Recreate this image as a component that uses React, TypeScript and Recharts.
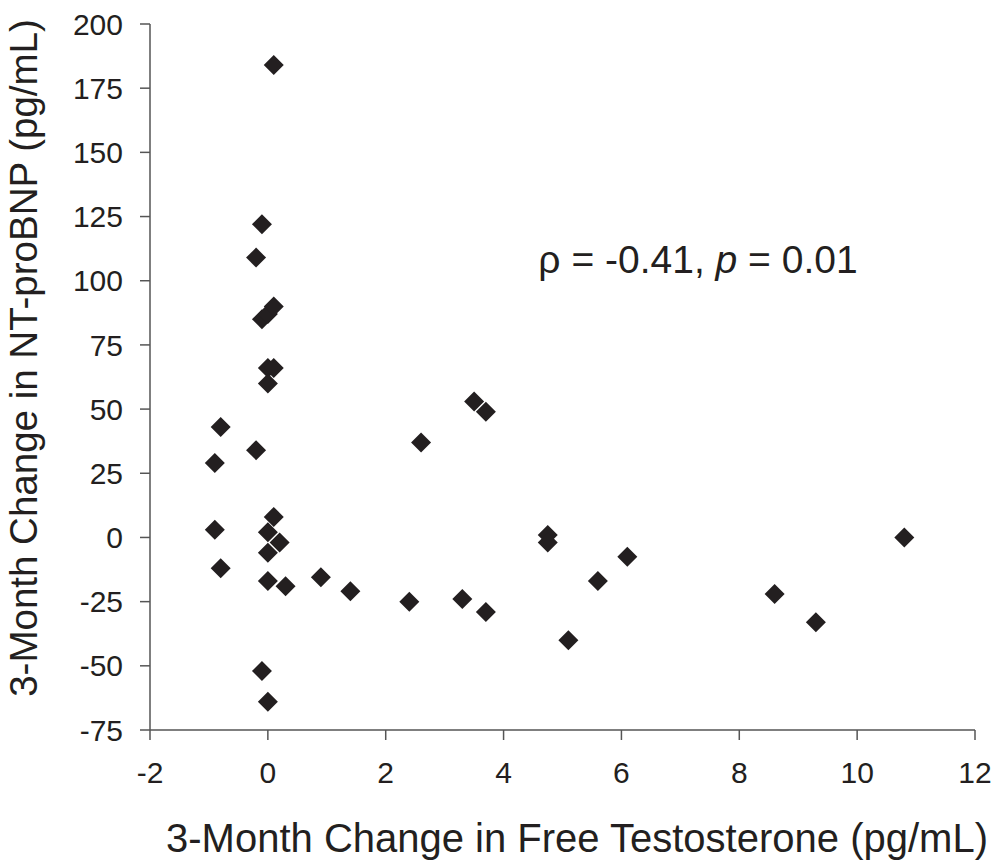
import React from "react";
import { Customized, Scatter, ScatterChart, XAxis, YAxis } from "recharts";

// change in free testosterone (pg/mL) vs change in NT-proBNP (pg/mL)
const testoChange = [
  0.1, -0.1, -0.2, -0.1, 0, 0.1, 0, 0.1, 0,
  -0.8, -0.2, -0.9, 0.1, 0, 0.2, 0, -0.9, -0.8, 0, 0.3, 0.9,
  -0.1, 0, 1.4, 2.4, 2.6, 3.3, 3.5, 3.7, 3.7, 4.75, 4.75,
  5.1, 5.6, 6.1, 8.6, 9.3, 10.8,
];
const bnpChange = [
  184, 122, 109, 85, 87, 90, 66, 66, 60,
  43, 34, 29, 8, 2, -2, -6, 3, -12, -17, -19, -15.5,
  -52, -64, -21, -25, 37, -24, 53, 49, -29, 1, -2,
  -40, -17, -7.5, -22, -33, 0,
];

const xTicks = [-2, 0, 2, 4, 6, 8, 10, 12];
const yTicks = [-75, -50, -25, 0, 25, 50, 75, 100, 125, 150, 175, 200];

const data = testoChange.map((x, i) => ({ x, y: bnpChange[i] }));

const font = "'Liberation Sans', Arial, sans-serif";
const ink = "#231f20";
const axisGrey = "#555";

// square turned 45 degrees, like the Excel marker
const Diamond = (props: any) => {
  const { cx, cy } = props;
  const r = 10;
  return (
    <polygon
      points={`${cx},${cy - r} ${cx + r},${cy} ${cx},${cy + r} ${cx - r},${cy}`}
      fill={ink}
    />
  );
};

const Texts = () => (
  <g fontFamily={font} fill={ink}>
    <text x={698} y={273} textAnchor="middle" fontSize={39}>
      ρ = -0.41, <tspan fontStyle="italic">p</tspan>  = 0.01
    </text>
    <text x={577} y={852} textAnchor="middle" fontSize={40}>
      3-Month Change in Free Testosterone (pg/mL)
    </text>
    <text x={37} y={358} textAnchor="middle" fontSize={38.5} transform="rotate(-90, 37, 358)">
      3-Month Change in NT-proBNP (pg/mL)
    </text>
  </g>
);

export default function App() {
  return (
    <div style={{ position: "absolute", left: 0, top: 0, background: "#fff" }}>
      <ScatterChart width={1000} height={865} margin={{ top: 24, right: 25, bottom: 0, left: 0 }}>
        <XAxis
          type="number"
          dataKey="x"
          domain={[-2, 12]}
          ticks={xTicks}
          height={135}
          axisLine={{ stroke: axisGrey, strokeWidth: 1.5 }}
          tickLine={{ stroke: axisGrey, strokeWidth: 1.5 }}
          tickSize={10}
          tickMargin={22}
          fontSize={30}
          tick={{ fontFamily: font, fontSize: 30, fill: ink }}
        />
        <YAxis
          type="number"
          dataKey="y"
          domain={[-75, 200]}
          ticks={yTicks}
          width={150}
          axisLine={{ stroke: axisGrey, strokeWidth: 1.5 }}
          tickLine={{ stroke: axisGrey, strokeWidth: 1.5 }}
          tickSize={10}
          tickMargin={17}
          fontSize={30}
          tick={{ fontFamily: font, fontSize: 30, fill: ink }}
        />
        <Scatter data={data} shape={Diamond} fill={ink} legendType="none" isAnimationActive={false} />
        <Customized component={Texts} />
      </ScatterChart>
    </div>
  );
}
